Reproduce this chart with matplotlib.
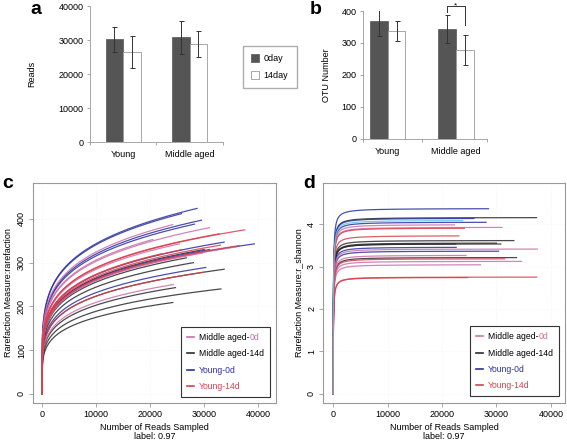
import numpy as np
import matplotlib
matplotlib.use("Agg")
import matplotlib.pyplot as plt

plt.rcParams['font.family'] = ['Liberation Sans', 'DejaVu Sans']
plt.rcParams['font.size'] = 6

# ---- data: panel a / b (bar charts) ----
groups = ['Young', 'Middle aged']
series = ['0day', '14day']
reads_mean = {'0day': [30200, 30800], '14day': [26500, 28800]}
reads_err = {'0day': [3600, 4800], '14day': [4800, 3900]}
otu_mean = {'0day': [368, 343], '14day': [337, 278]}
otu_err = {'0day': [46, 44], '14day': [31, 46]}

# ---- data: panel c (rarefaction endpoints: reads sampled, observed OTUs) ----
c_young0 = [(28700, 424), (25800, 412), (29500, 397), (28200, 388),
            (33700, 347), (39300, 343), (30300, 289), (31000, 330)]
c_young14 = [(37500, 375), (32800, 366), (36500, 339), (29900, 278),
             (26000, 330), (22000, 320), (33000, 340)]
c_mid0 = [(31000, 380), (20500, 353), (24300, 250), (25400, 343),
          (24200, 387), (29700, 322), (36000, 336), (27000, 318)]
c_mid14 = [(33700, 285), (33100, 240), (24700, 243), (24200, 209),
           (26700, 311), (30000, 330), (28000, 300)]

# ---- data: panel d (shannon endpoints) ----
d_young0 = [(28550, 4.36), (28100, 4.04), (25850, 4.13), (30400, 3.36), (22600, 3.45)]
d_young14 = [(37400, 2.75), (24700, 2.74), (23100, 3.72), (24100, 3.90), (31500, 3.18)]
d_mid0 = [(31000, 3.92), (37500, 3.41), (34600, 3.12), (27100, 3.04),
          (24400, 3.26), (22300, 3.98)]
d_mid14 = [(37350, 4.15), (33200, 3.61), (30800, 3.53), (22500, 3.53),
           (33700, 3.21), (30000, 3.55)]
d_extra = [(23800, 4.08)]

col_mid0 = '#cc6fa8'
col_mid14 = '#2a2a2a'
col_young0 = '#2b2fa0'
col_young14 = '#d8404f'

fig = plt.figure(figsize=(5.67, 4.41), dpi=100)

def bar_panel(ax, means, errs, width):
    x = np.arange(len(groups))
    b0 = ax.bar(x - width / 2, means['0day'], width, color='#555555', edgecolor='#555555',
                lw=0.5, label='0day')
    b1 = ax.bar(x + width / 2, means['14day'], width, color='white', edgecolor='#999999',
                lw=0.6, label='14day')
    ax.errorbar(x - width / 2, means['0day'], yerr=errs['0day'], fmt='none', ecolor='#333333',
                elinewidth=0.7, capsize=1.8, capthick=0.7)
    ax.errorbar(x + width / 2, means['14day'], yerr=errs['14day'], fmt='none', ecolor='#333333',
                elinewidth=0.7, capsize=1.8, capthick=0.7)
    for s in ['top', 'right']:
        ax.spines[s].set_visible(False)
    for s in ['left', 'bottom']:
        ax.spines[s].set_color('#999999')
        ax.spines[s].set_linewidth(0.6)
    ax.set_xticks(x)
    ax.set_xticklabels(groups, fontsize=6.5)
    ax.tick_params(axis='x', length=0, pad=6)
    ax.tick_params(axis='y', length=2.5, width=0.6, color='#999999', labelsize=6.5, pad=2)
    return b0, b1

# panel a
ax_a = fig.add_axes([0.1587, 0.678, 0.2346, 0.308])
b0, b1 = bar_panel(ax_a, reads_mean, reads_err, 0.263)
ax_a.set_xlim(-0.5, 1.5)
ax_a.set_ylim(0, 40000)
ax_a.set_yticks([0, 10000, 20000, 30000, 40000])
ax_a.set_ylabel('Reads', fontsize=6.5, labelpad=16)
ax_a.set_xticks([-0.5, 0.5, 1.5], minor=True)
ax_a.tick_params(axis='x', which='minor', length=2.5, width=0.6, color='#999999')
fig.legend([b0, b1], series, loc='upper left', bbox_to_anchor=(243 / 567, 1 - 46 / 441),
           frameon=True, fancybox=False, edgecolor='#999999', fontsize=6.5,
           handlelength=0.9, handleheight=0.9, borderpad=0.9, labelspacing=0.9,
           handletextpad=0.5, borderaxespad=0)

# panel b
ax_b = fig.add_axes([0.640, 0.685, 0.219, 0.290])
bar_panel(ax_b, otu_mean, otu_err, 0.257)
ax_b.set_xlim(-0.364, 1.455)
ax_b.set_ylim(0, 400)
ax_b.set_yticks([0, 100, 200, 300, 400])
ax_b.set_ylabel('OTU Number', fontsize=6.5, labelpad=8)
ax_b.set_xticks([-0.364, 0.5, 1.455], minor=True)
ax_b.tick_params(axis='x', which='minor', length=2.5, width=0.6, color='#999999')
# significance bracket
xl, xr = 1 - 0.257 / 2, 1 + 0.257 / 2
ax_b.plot([xl, xl, xr, xr], [398, 416, 416, 356], color='#333333', lw=0.7, clip_on=False)
ax_b.text((xl + xr) / 2, 417, '*', ha='center', va='center', fontsize=6, clip_on=False)

def style_rare(ax):
    for s in ax.spines.values():
        s.set_color('#999999')
        s.set_linewidth(0.8)
    ax.tick_params(length=3, width=0.6, color='#999999', labelsize=6.5, pad=2)
    for lab in ax.get_yticklabels():
        lab.set_rotation(90)
        lab.set_va('center')
    ax.grid(True, color='#f0f0f0', lw=0.4, ls=':')
    ax.set_axisbelow(True)
    ax.set_xlabel('Number of Reads Sampled\nlabel: 0.97', fontsize=6.5, labelpad=3,
                  linespacing=0.95)

def rare_legend(ax, anchor):
    handles = [plt.Line2D([], [], color=c, lw=1.2) for c in
               [col_mid0, col_mid14, col_young0, col_young14]]
    labels = ['Middle aged-', 'Middle aged-14d', 'Young-0d', 'Young-14d']
    leg = ax.legend(handles, labels, loc='lower right', bbox_to_anchor=anchor,
                    frameon=True, fancybox=False, edgecolor='#333333', fontsize=6.2,
                    handlelength=0.8, borderpad=0.7, labelspacing=0.85, framealpha=1,
                    handletextpad=0.6, borderaxespad=0)
    leg.get_frame().set_linewidth(0.8)
    texts = leg.get_texts()
    texts[2].set_color(col_young0)
    texts[3].set_color(col_young14)
    return texts[0]

# panel c
ax_c = fig.add_axes([0.0582, 0.0862, 0.4286, 0.4988])
for pts, col in [(c_mid14, col_mid14), (c_young0, col_young0), (c_mid0, col_mid0),
                 (c_young14, col_young14)]:
    for n_end, s_end in pts:
        n = np.linspace(0, n_end, 300)
        ax_c.plot(n, s_end * (n / n_end) ** 0.2, color=col, lw=0.9, alpha=0.85)
ax_c.set_xlim(-1660, 43300)
ax_c.set_ylim(-20.6, 482)
ax_c.set_xticks([0, 10000, 20000, 30000, 40000])
ax_c.set_yticks([0, 100, 200, 300, 400])
ax_c.set_ylabel('Rarefaction Measure:rarefaction', fontsize=6.5, labelpad=3)
style_rare(ax_c)
t_c = rare_legend(ax_c, (0.975, 0.027))

# panel d
ax_d = fig.add_axes([0.5697, 0.0862, 0.4268, 0.4988])
for pts, col in [(d_mid14, col_mid14), (d_young0, col_young0), (d_mid0, col_mid0),
                 (d_young14, col_young14), (d_extra, '#5bc8e0')]:
    for n_end, h_end in pts:
        n = np.concatenate([np.linspace(0, 2000, 300), np.linspace(2000, n_end, 100)])
        ax_d.plot(n, h_end * n / (n + 50) * (n_end + 50) / n_end, color=col, lw=0.9,
                  alpha=0.85)
ax_d.set_xlim(-1850, 42600)
ax_d.set_ylim(-0.212, 4.965)
ax_d.set_xticks([0, 10000, 20000, 30000, 40000])
ax_d.set_yticks([0, 1, 2, 3, 4])
ax_d.set_ylabel('Rarefaction Measure:r_shannon', fontsize=6.5, labelpad=3)
style_rare(ax_d)
t_d = rare_legend(ax_d, (0.975, 0.03))

# panel letters
for x, y, s in [(30, 10, 'a'), (310, 10, 'b'), (2, 183, 'c'), (303, 183, 'd')]:
    fig.text(x / 567, 1 - y / 441, s, fontsize=14, fontweight='bold', ha='left', va='center')

# coloured "0d" suffix after the first legend entry
fig.canvas.draw()
W, H = fig.canvas.get_width_height()
for t in (t_c, t_d):
    bb = t.get_window_extent()
    fig.text(bb.x1 / W, bb.y0 / H, '0d', fontsize=6.2, color=col_mid0,
             ha='left', va='bottom')

fig.savefig('out.png', dpi=100)
